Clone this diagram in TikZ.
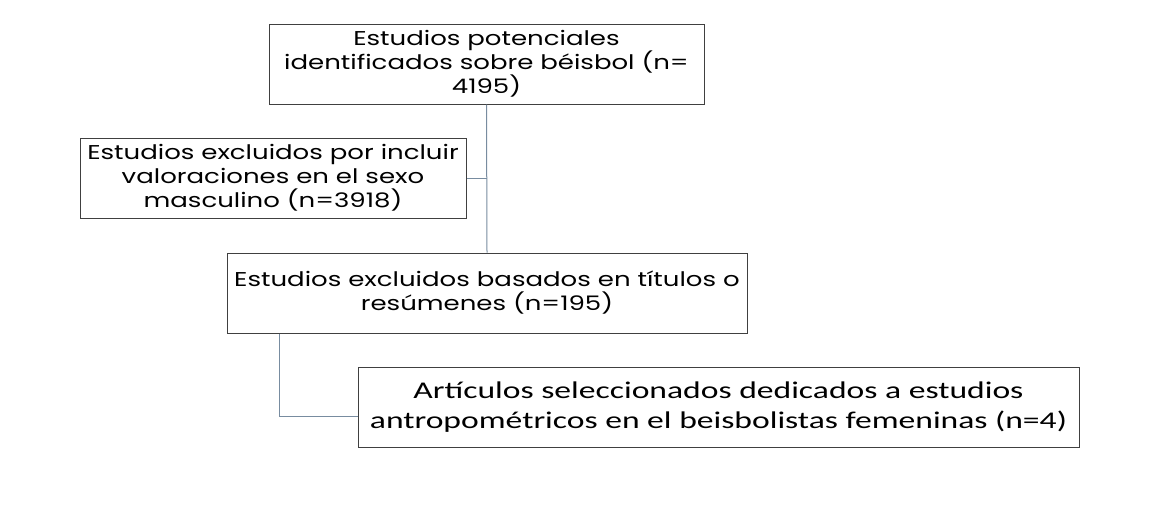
\documentclass[tikz,border=0pt]{standalone}
\usepackage{fontspec}
\newfontfamily\carl[FakeStretch=1.4]{Carlito}
\newfontfamily\gothicfont[FakeStretch=1.3]{Poppins}
\definecolor{linec}{RGB}{120,140,160}
\definecolor{boxc}{RGB}{64,64,64}
\tikzset{
  box/.style={draw=boxc, line width=1pt, minimum height=80pt, inner sep=0pt,
    align=center, font=\gothicfont\fontsize{20}{24}\selectfont},
  boxfour/.style={draw=boxc, line width=1pt, minimum height=80pt, inner sep=0pt,
    align=center, font=\carl\fontsize{24}{30}\selectfont},
  conn/.style={draw=linec, line width=1pt}
}
\begin{document}
\begin{tikzpicture}[x=1pt,y=-1pt]
\useasboundingbox[fill=white] (0,0) rectangle (1159,509);
\node[box, minimum width=435pt] (b1) at (486.5,64) {Estudios potenciales\\identificados sobre béisbol (n=\\4195)};
\node[box, minimum width=386pt] (b2) at (273,178) {Estudios excluidos por incluir\\valoraciones en el sexo\\masculino (n=3918)};
\node[box, minimum width=520pt] (b3) at (487,293) {Estudios excluidos basados en títulos o\\resúmenes (n=195)};
\node[boxfour, minimum width=721pt] (b4) at (718.5,407) {Artículos seleccionados dedicados a estudios\\antropométricos en el beisbolistas femeninas (n=4)};
\coordinate (k) at (279,416);
\draw[conn] (b1.south) -- (b3.north);
\draw[conn] (b2.east) -- (b2.east -| b1.south);
\draw[conn] (b3.south -| k) -- (k) -- (k -| b4.west);
\end{tikzpicture}
\end{document}
